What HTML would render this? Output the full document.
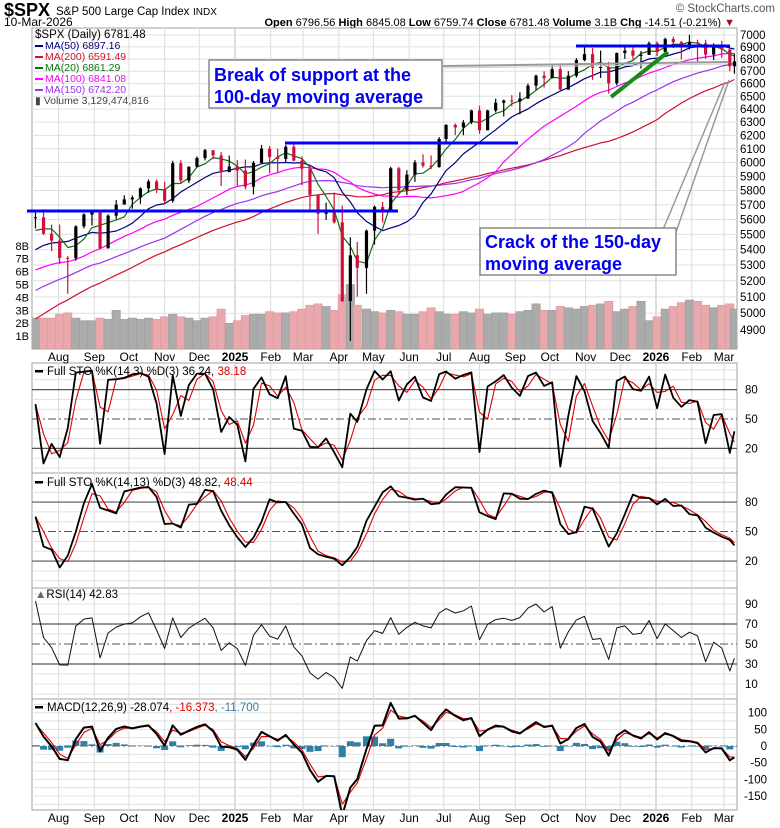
<!DOCTYPE html>
<html><head><meta charset="utf-8"><title>$SPX chart</title>
<style>
html,body{margin:0;padding:0;background:#fff;}
svg{display:block;font-family:"Liberation Sans",Arial,sans-serif;}
</style></head>
<body>
<svg id="chart" width="780" height="828" viewBox="0 0 780 828" xmlns="http://www.w3.org/2000/svg">
  <rect x="0" y="0" width="780" height="828" fill="#fff"/>
  <g>
    <text x="4" y="16" font-size="18" font-weight="bold">$SPX</text>
    <text x="56" y="15" font-size="11.5">S&amp;P 500 Large Cap Index</text>
    <text x="193" y="15" font-size="10">INDX</text>
    <text x="4" y="26" font-size="12">10-Mar-2026</text>
    <text x="735" y="26" font-size="11" text-anchor="end"><tspan font-weight="bold">Open</tspan> 6796.56 <tspan font-weight="bold">High</tspan> 6845.08 <tspan font-weight="bold">Low</tspan> 6759.74 <tspan font-weight="bold">Close</tspan> 6781.48 <tspan font-weight="bold">Volume</tspan> 3.1B <tspan font-weight="bold">Chg</tspan> -14.51 (-0.21%) <tspan fill="#a01020">▼</tspan></text>
    <text x="775" y="12" font-size="11.5" fill="#555" text-anchor="end">© StockCharts.com</text>
  </g>
  <g id="layer-grid"></g>
  <g id="layer-data"></g>
  <g id="layer-annot"></g>
  <g id="layer-text"></g>
</svg>
<script>
// ---------- DATA (weekly readings) ----------
const priorCloses = [4308,4327,4224,4117,4358,4415,4514,4559,4594,4604,4719,4754,4770,4697,4784,4840,4891,4959,5027,5006,5089,5137,5124,5117,5234,5254,5204,5123,4967,5100,5128,5223,5303,5305,5278,5347,5432,5465,5460,5567];
const weekDates = ["2024-07-12","2024-07-19","2024-07-26","2024-08-02","2024-08-09","2024-08-16","2024-08-23","2024-08-30","2024-09-06","2024-09-13","2024-09-20","2024-09-27","2024-10-04","2024-10-11","2024-10-18","2024-10-25","2024-11-01","2024-11-08","2024-11-15","2024-11-22","2024-11-29","2024-12-06","2024-12-13","2024-12-20","2024-12-27","2025-01-03","2025-01-10","2025-01-17","2025-01-24","2025-01-31","2025-02-07","2025-02-14","2025-02-21","2025-02-28","2025-03-07","2025-03-14","2025-03-21","2025-03-28","2025-04-04","2025-04-11","2025-04-17","2025-04-25","2025-05-02","2025-05-09","2025-05-16","2025-05-23","2025-05-30","2025-06-06","2025-06-13","2025-06-20","2025-06-27","2025-07-03","2025-07-11","2025-07-18","2025-07-25","2025-08-01","2025-08-08","2025-08-15","2025-08-22","2025-08-29","2025-09-05","2025-09-12","2025-09-19","2025-09-26","2025-10-03","2025-10-10","2025-10-17","2025-10-24","2025-10-31","2025-11-07","2025-11-14","2025-11-21","2025-11-28","2025-12-05","2025-12-12","2025-12-19","2025-12-26","2026-01-02","2026-01-09","2026-01-16","2026-01-23","2026-01-30","2026-02-06","2026-02-13","2026-02-20","2026-02-27","2026-03-06","2026-03-10"];
const weekClose = [5615,5505,5459,5346,5344,5554,5634,5648,5408,5626,5702,5738,5751,5815,5864,5808,5728,5995,5870,5969,6032,6090,6051,5930,5971,5942,5827,5997,6101,6040,6026,6115,6013,5955,5770,5639,5667,5581,5074,5363,5282,5525,5686,5660,5958,5802,5912,6000,5977,5967,6173,6279,6260,6297,6389,6238,6389,6450,6467,6460,6482,6584,6664,6644,6716,6553,6664,6791,6840,6728,6734,6603,6849,6870,6827,6834,6930,6858,6966,6940,6915,6939,6930,6836,6900,6879,6740,6781];
const weekHigh = [5655,5670,5566,5566,5358,5561,5643,5651,5637,5636,5733,5767,5765,5822,5878,5878,5862,6012,6017,5972,6044,6099,6085,6078,6050,6017,6021,6011,6128,6120,6101,6128,6147,6044,5986,5710,5715,5786,5695,5481,5450,5533,5695,5720,5969,5969,5944,6017,6059,6051,6187,6284,6290,6315,6395,6427,6395,6481,6474,6509,6532,6600,6672,6699,6750,6764,6700,6807,6920,6890,6869,6776,6853,6895,6901,6866,6945,6945,6978,6986,6950,7002,6960,6960,6930,6950,6880,6845];
const weekLow = [5540,5497,5390,5306,5119,5328,5540,5560,5402,5407,5602,5703,5674,5707,5784,5783,5703,5715,5853,5853,5964,6015,6024,5832,5932,5829,5809,5773,6003,5923,5923,6003,6008,5837,5666,5504,5597,5572,5069,4835,5101,5119,5433,5579,5786,5768,5767,5861,5963,5952,5962,6145,6202,6201,6285,6212,6239,6375,6343,6420,6360,6480,6551,6569,6643,6550,6551,6649,6781,6631,6646,6521,6586,6801,6796,6722,6832,6824,6858,6890,6797,6880,6780,6800,6790,6810,6700,6680];
const weekVolumeB = [2.4,2.4,2.4,2.7,2.8,2.4,2.2,2.2,2.4,2.3,3.0,2.3,2.4,2.3,2.4,2.3,2.5,2.7,2.5,2.4,2.2,2.4,2.5,3.1,2.0,2.2,2.6,2.7,2.7,2.9,2.8,2.8,2.9,3.1,3.4,3.5,3.3,3.0,4.2,5.0,3.4,3.1,2.9,2.8,3.0,2.9,2.7,2.7,2.9,3.2,2.9,2.7,2.7,2.9,2.8,3.1,2.7,2.8,2.8,2.7,2.9,3.0,3.5,3.0,3.0,3.3,3.2,3.1,3.3,3.4,3.5,3.7,2.9,3.1,3.3,3.7,2.2,2.5,3.1,3.3,3.6,3.8,3.7,3.4,3.2,3.4,3.5,3.1];
// tick labels
const monthDates = ["2024-08-01","2024-09-01","2024-10-01","2024-11-01","2024-12-01","2025-01-01","2025-02-01","2025-03-01","2025-04-01","2025-05-01","2025-06-01","2025-07-01","2025-08-01","2025-09-01","2025-10-01","2025-11-01","2025-12-01","2026-01-01","2026-02-01","2026-03-01"];
const monthLabels = ["Aug","Sep","Oct","Nov","Dec","2025","Feb","Mar","Apr","May","Jun","Jul","Aug","Sep","Oct","Nov","Dec","2026","Feb","Mar"];
const priceTicks = [4900,5000,5100,5200,5300,5400,5500,5600,5700,5800,5900,6000,6100,6200,6300,6400,6500,6600,6700,6800,6900,7000];
const volumeTicks = [1,2,3,4,5,6,7,8];
const stoTicks = [20,50,80];
const rsiTicks = [10,30,50,70,90];
const macdTicks = [-150,-100,-50,0,50,100];

// ---------- AXES ----------
const NS = "http://www.w3.org/2000/svg";
const PL = 32, PR = 737;
const P = {main:[28,349], sto1:[363,473], sto2:[473,588], rsi:[588,699], macd:[699,810]};
function xOf(d){ const t = Date.parse(d+"T00:00:00Z"); return 235 + (t - Date.UTC(2025,0,1))/86400000*1.1534; }
function yMain(v){ return 35 + 1904*Math.log10(7000/v); }
function yVol(v){ return 349 - v*12.9; }
function ySto1(v){ return 468 - v*0.98; }
function ySto2(v){ return 580.7 - v*0.983; }
function yRsi(v){ return 694 - v*1.0; }
function yMacd(v){ return 746 - v*0.333; }

function mk(parent, tag, attrs){ const e = document.createElementNS(NS, tag); for (const k in attrs) e.setAttribute(k, attrs[k]); parent.appendChild(e); return e; }
const gGrid = document.getElementById("layer-grid");
const gData = document.getElementById("layer-data");
const gAnn = document.getElementById("layer-annot");
const gText = document.getElementById("layer-text");

const defs = mk(document.getElementById("chart"), "defs", {});
for (const k in P){
  const cp = mk(defs, "clipPath", {id:"clip-"+k});
  mk(cp, "rect", {x:PL, y:P[k][0], width:PR-PL, height:P[k][1]-P[k][0]});
}

// ---------- INDICATORS (computed from the data arrays) ----------
const N = weekClose.length, OFF = priorCloses.length;
const allC = priorCloses.concat(weekClose);
function sma(n){ const out=[]; for(let i=0;i<N;i++){ let s=0,c=0; for(let j=i+OFF-n+1;j<=i+OFF;j++){ if(j>=0){s+=allC[j];c++;} } out.push(s/c);} return out; }
const ma20=sma(4), ma50=sma(10), ma100=sma(20), ma150=sma(30), ma200=sma(40);
const rawK=[]; for(let i=0;i<N;i++){ let hh=-1e9, ll=1e9; for(let j=Math.max(0,i-3);j<=i;j++){hh=Math.max(hh,weekHigh[j]); ll=Math.min(ll,weekLow[j]);} rawK.push((weekClose[i]-ll)/(hh-ll)*100); }
function smaArr(a,n){ return a.map((v,i)=>{ let s=0,c=0; for(let j=Math.max(0,i-n+1);j<=i;j++){s+=a[j];c++;} return s/c; }); }
const sto1K = rawK, sto1D = smaArr(sto1K,2);
const sto2K = smaArr(rawK,3), sto2D = smaArr(sto2K,2);
const rsi=[]; { let ag=0, al=0; const n=4; for(let j=1;j<allC.length;j++){ const ch=allC[j]-allC[j-1]; const g=Math.max(ch,0), l=Math.max(-ch,0); if(j<=n){ag+=g/n; al+=l/n;} else {ag=(ag*(n-1)+g)/n; al=(al*(n-1)+l)/n;} if(j>=OFF) rsi.push(al===0?100:100-100/(1+ag/al)); } }
const macd=[], signal=[], hist=[]; { const af=2/(12/5+1), as=2/(26/5+1), ag=2/(9/5+1); let ef=allC[0], es=allC[0], sg=0; for(let j=0;j<allC.length;j++){ ef=ef+af*(allC[j]-ef); es=es+as*(allC[j]-es); const m=ef-es; sg = j===0?m:sg+ag*(m-sg); if(j>=OFF){ macd.push(m); signal.push(sg); hist.push(m-sg);} } }

// ---------- GRID & FRAMES ----------
for (const k in P){
  const f = mk(gGrid, "rect", {x:PL, y:P[k][0], width:PR-PL, height:P[k][1]-P[k][0], fill:"#fff", stroke:"#a0a0a0", "stroke-width":1});
  
  
}
for (let i=0;i<monthDates.length;i++){
  const x = xOf(monthDates[i]);
  for (const k in P){
    const l = mk(gGrid, "line", {x1:x, x2:x, y1:P[k][0], y2:P[k][1], stroke: monthLabels[i].length===4?"#bbb":"#dcdcdc", "stroke-width":1});
    
    
  }
  for (const yy of [357, 818]){
    const t = mk(gText, "text", {x:x, y:yy+4, "font-size":12, "text-anchor":"middle", "font-weight": monthLabels[i].length===4?"bold":"normal"});
    t.textContent = monthLabels[i];
    
    
  }
}
priceTicks.forEach(v=>{
  const y=yMain(v);
  const l = mk(gGrid, "line", {x1:PL, x2:PR, y1:y, y2:y, stroke:"#e0e0e0"});
  
  
  const t = mk(gText, "text", {x:740, y:y+4, "font-size":11.5});
  t.textContent = v;
  
  
});
volumeTicks.forEach(v=>{
  const t = mk(gText, "text", {x:29, y:yVol(v)+4, "font-size":11, "text-anchor":"end"});
  t.textContent = v+"B";
  
  
});
function oscGrid(name, yf, lo, hi, step, heavy, dash, ticks, labelX, anchor){
  for(let v=lo; v<=hi; v+=step){
    const y=yf(v); if (y<=P[name][0]+1 || y>=P[name][1]-1) continue;
    const isHeavy = heavy.includes(v), isDash = v===dash;
    const l = mk(gGrid, "line", {x1:PL, x2:PR, y1:y, y2:y, stroke: isHeavy?"#555":(isDash?"#555":"#e0e0e0"), "stroke-width":isHeavy?1.2:1, "stroke-dasharray": isDash?"8,3,2,3":"none"});
    
    
  }
  ticks.forEach(v=>{
    const t = mk(gText, "text", {x:labelX, y:yf(v)+4, "font-size":11.5, "text-anchor":anchor});
    t.textContent = v;
    
    
  });
}
oscGrid("sto1", ySto1, 0, 100, 10, [20,80], 50, stoTicks, 745, "start");
oscGrid("sto2", ySto2, 0, 100, 10, [20,80], 50, stoTicks, 745, "start");
oscGrid("rsi", yRsi, 0, 100, 10, [30,70], 50, rsiTicks, 745, "start");
oscGrid("macd", yMacd, -175, 125, 25, [], 0, macdTicks, 767, "end");

// ---------- MAIN PANEL ----------
const gMain = mk(gData, "g", {"clip-path":"url(#clip-main)"});


for (let i=0;i<N;i++){
  const x=xOf(weekDates[i]); const up = i===0 || weekClose[i]>=weekClose[i-1];
  const b = mk(gMain, "rect", {x:x-4.2, y:yVol(weekVolumeB[i]), width:8.4, height:349-yVol(weekVolumeB[i]), fill: up?"#ababab":"#e8a8ac", stroke:up?"#959595":"#d89098", "stroke-width":0.5});
  
  
}
function line(parent, vals, yf, color, w, name){
  const d = vals.map((v,i)=>(i?"L":"M")+xOf(weekDates[i]).toFixed(1)+","+yf(v).toFixed(1)).join("");
  const p = mk(parent, "path", {d:d, fill:"none", stroke:color, "stroke-width":w, "stroke-linejoin":"round"});
  
  
  return p;
}
line(gMain, ma200, yMain, "#d0102c", 1.2, "ma200-line");
line(gMain, ma150, yMain, "#9933ee", 1.2, "ma150-line");
line(gMain, ma100, yMain, "#ff00ff", 1.2, "ma100-line");
line(gMain, ma50, yMain, "#000080", 1.2, "ma50-line");
line(gMain, ma20, yMain, "#107010", 1.2, "ma20-line");
for (let i=0;i<N;i++){
  const x=xOf(weekDates[i]); const open = i===0?weekClose[0]:weekClose[i-1]; const up = weekClose[i]>=open;
  const col = up?"#000":"#d0103a";
  const w = mk(gMain, "line", {x1:x, x2:x, y1:yMain(weekHigh[i]), y2:yMain(weekLow[i]), stroke:col, "stroke-width":1.2});
  
  
  const yt=yMain(Math.max(open,weekClose[i])), yb=yMain(Math.min(open,weekClose[i]));
  const r = mk(gMain, "rect", {x:x-1.6, y:yt, width:3.2, height:Math.max(1,yb-yt), fill:col});
  
  
}

// ---------- OSCILLATORS ----------
function panelGroup(k){ const g = mk(gData, "g", {"clip-path":"url(#clip-"+k+")"}); return g; }
const g1 = panelGroup("sto1");


line(g1, sto1D, ySto1, "#e00000", 1.1, "sto1-d-line");
line(g1, sto1K, ySto1, "#000", 1.8, "sto1-k-line");
const g2 = panelGroup("sto2");


line(g2, sto2D, ySto2, "#e00000", 1.1, "sto2-d-line");
line(g2, sto2K, ySto2, "#000", 1.8, "sto2-k-line");
const g3 = panelGroup("rsi");


line(g3, rsi, yRsi, "#111", 1, "rsi-line");
const g4 = panelGroup("macd");


for (let i=0;i<N;i++){
  const x=xOf(weekDates[i]); const y0=yMacd(0), y1=yMacd(hist[i]);
  const b = mk(g4, "rect", {x:x-3.5, y:Math.min(y0,y1), width:7, height:Math.max(0.5,Math.abs(y1-y0)), fill:"#2f80a8"});
  
  
}
line(g4, signal, yMacd, "#e00000", 1.1, "macd-signal-line");
line(g4, macd, yMacd, "#000", 2, "macd-line");

// ---------- ANNOTATIONS ----------
function ann(tag, attrs, name){ const e = mk(gAnn, tag, attrs);   return e; }
ann("line", {x1:443, y1:66, x2:728, y2:62, stroke:"#999", "stroke-width":2}, "callout-pointer-support");
ann("line", {x1:443, y1:68, x2:728, y2:64, stroke:"#ccc", "stroke-width":1}, "callout-pointer-support-shadow");
ann("line", {x1:662, y1:232, x2:725, y2:82, stroke:"#999", "stroke-width":1.5}, "callout-pointer-crack-1");
ann("line", {x1:676, y1:232, x2:729, y2:80, stroke:"#999", "stroke-width":1.5}, "callout-pointer-crack-2");
ann("line", {x1:27, y1:211, x2:398, y2:211, stroke:"#0000ff", "stroke-width":3}, "support-line-2024");
ann("line", {x1:285, y1:143, x2:518, y2:143, stroke:"#0000ff", "stroke-width":3}, "resistance-line-2025");
ann("line", {x1:576, y1:46, x2:730, y2:46, stroke:"#0000ff", "stroke-width":3}, "resistance-line-2026");
ann("line", {x1:611, y1:97, x2:668, y2:52, stroke:"#1a8a1a", "stroke-width":4}, "uptrend-line-green");
ann("rect", {x:209, y:60, width:233, height:48, fill:"#fff", stroke:"#888", "stroke-width":1.5}, "support-callout-box");
const t1 = ann("text", {x:214, y:81, "font-size":18, "font-weight":"bold", fill:"#0000ee"}, "support-callout-text");
t1.innerHTML = '<tspan x="214" y="81">Break of support at the</tspan><tspan x="214" y="103">100-day moving average</tspan>';
ann("rect", {x:480, y:228, width:196, height:47, fill:"#fff", stroke:"#888", "stroke-width":1.5}, "crack-callout-box");
const t2 = ann("text", {x:485, y:248, "font-size":18, "font-weight":"bold", fill:"#0000ee"}, "crack-callout-text");
t2.innerHTML = '<tspan x="485" y="248">Crack of the 150-day</tspan><tspan x="485" y="270">moving average</tspan>';
</script>
<script>
// ---------- LEGENDS ----------
(function(){
  const svg = document.getElementById("chart");
  const g = document.createElementNS("http://www.w3.org/2000/svg","g");
  
  
  svg.appendChild(g);
  g.innerHTML =
   '<text x="35" y="38" font-size="11.5">$SPX (Daily) 6781.48</text>'+
   '<rect x="35" y="45" width="8" height="2" fill="#000080"/><text x="45" y="49" font-size="10.5" fill="#000080">MA(50) 6897.16</text>'+
   '<rect x="35" y="56" width="8" height="2" fill="#d0102c"/><text x="45" y="60" font-size="10.5" fill="#d0102c">MA(200) 6591.49</text>'+
   '<rect x="35" y="67" width="8" height="2" fill="#107010"/><text x="45" y="71" font-size="10.5" fill="#107010">MA(20) 6861.29</text>'+
   '<rect x="35" y="78" width="8" height="2" fill="#ff00ff"/><text x="45" y="82" font-size="10.5" fill="#ff00ff">MA(100) 6841.08</text>'+
   '<rect x="35" y="89" width="8" height="2" fill="#9933ee"/><text x="45" y="93" font-size="10.5" fill="#9933ee">MA(150) 6742.20</text>'+
   '<text x="35" y="104" font-size="10.5" fill="#444">▮ Volume 3,129,474,816</text>'+
   '<rect x="35" y="370" width="8" height="2.5" fill="#000"/><text x="47" y="375" font-size="11.5">Full STO %K(14,3) %D(3) 36.24, <tspan fill="#e00000">38.18</tspan></text>'+
   '<rect x="35" y="481" width="8" height="2.5" fill="#000"/><text x="47" y="486" font-size="11.5">Full STO %K(14,13) %D(3) 48.82, <tspan fill="#e00000">48.44</tspan></text>'+
   '<text x="35" y="598" font-size="11.5"><tspan fill="#666">▲</tspan>RSI(14) 42.83</text>'+
   '<rect x="35" y="706" width="8" height="2.5" fill="#000"/><text x="47" y="711" font-size="11.5">MACD(12,26,9) -28.074<tspan fill="#e00000">, -16.373</tspan><tspan fill="#2f80a8">, -11.700</tspan></text>';
})();
</script>
</body></html>
